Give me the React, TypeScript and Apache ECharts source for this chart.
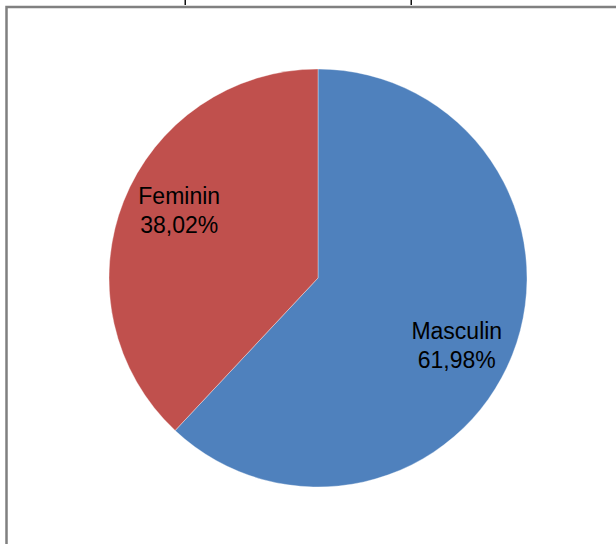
import React, { useEffect, useRef } from "react";
import * as echarts from "echarts";

const categories = ["Masculin", "Feminin"];
const values = [61.98, 38.02];
const colors = ["#4F81BD", "#C0504D"];

export default function App() {
  const ref = useRef<HTMLDivElement>(null);
  useEffect(() => {
    if (!ref.current) return;
    const chart = echarts.init(ref.current, null, { renderer: "svg" });
    const data = categories.map((name, i) => ({
      name,
      value: values[i],
      itemStyle: { color: colors[i] },
    }));
    chart.setOption({
      animation: false,
      backgroundColor: "#ffffff",
      graphic: [
        {
          type: "rect",
          shape: { x: 6.5, y: 7, width: 720, height: 720 },
          style: { fill: "none", stroke: "#808080", lineWidth: 2.5 },
          silent: true,
          z: 0,
        },
        {
          type: "rect",
          shape: { x: 184.5, y: 0, width: 1.5, height: 5 },
          style: { fill: "#111" },
          silent: true,
        },
        {
          type: "rect",
          shape: { x: 410.5, y: 0, width: 1.5, height: 5 },
          style: { fill: "#111" },
          silent: true,
        },
      ],
      series: [
        {
          type: "pie",
          center: [318, 278],
          radius: [0, 209],
          startAngle: 90,
          clockwise: true,
          silent: true,
          label: { show: false },
          labelLine: { show: false },
          itemStyle: { borderColor: "rgba(255,255,255,0.35)", borderWidth: 1 },
          data,
        },
        {
          type: "pie",
          center: [318, 278],
          radius: [94, 209],
          startAngle: 85.5,
          clockwise: true,
          silent: true,
          itemStyle: { color: "rgba(0,0,0,0)" },
          label: {
            show: true,
            position: "inside",
            formatter: (p: any) => `${p.name}\n${p.value.toFixed(2).replace(".", ",")}%`,
            fontFamily: "Liberation Sans, Arial, sans-serif",
            fontSize: 23,
            lineHeight: 29,
            color: "#000000",
            align: "center",
          },
          labelLine: { show: false },
          data: categories.map((name, i) => ({ name, value: values[i] })),
        },
      ],
    });
    return () => chart.dispose();
  }, []);
  return (
    <div
      ref={ref}
      style={{ position: "fixed", left: 0, top: 0, width: 616, height: 544 }}
    />
  );
}
